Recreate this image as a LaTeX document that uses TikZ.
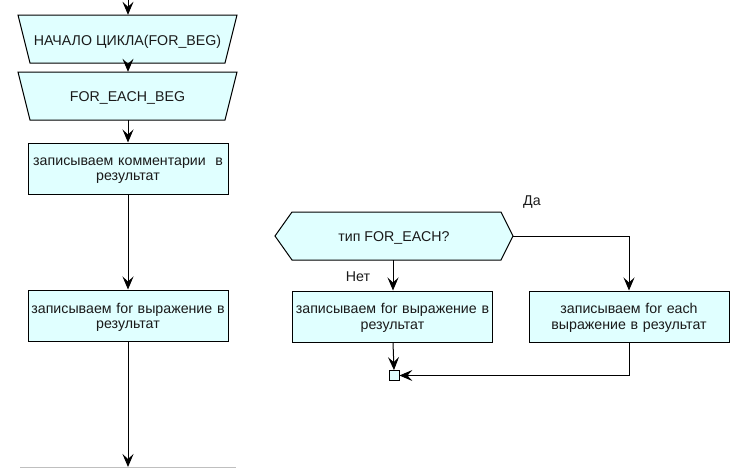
\documentclass[tikz,border=0pt]{standalone}
\usepackage{fontspec}
\setmainfont{Liberation Sans}
\usetikzlibrary{arrows.meta}
\definecolor{boxfill}{HTML}{E0FFFF}
\definecolor{txt}{HTML}{1A1A1A}
\tikzset{
  shapeline/.style={draw=black, line width=1pt, fill=boxfill},
  procbox/.style={shapeline, rectangle, minimum width=200pt, minimum height=51pt, inner sep=0pt},
  proctext/.style={inner sep=0pt, text width=198pt, align=center, font=\fontsize{14.2}{15.5}\selectfont, text=txt},
  lbl/.style={inner sep=0pt, font=\fontsize{14.2}{15.5}\selectfont, text=txt},
  conn/.style={draw=black, line width=1pt, -{Stealth[length=13pt,width=11pt,inset=5pt]}},
  plain/.style={draw=black, line width=1pt}
}
\begin{document}
\begin{tikzpicture}[x=1pt,y=-1pt]
\useasboundingbox[fill=white] (0,0) rectangle (750,469);
% trapezoid 1
\fill[boxfill] (18,15) -- (237,15) -- (225,63) -- (30,63) -- cycle;
\draw[line width=1pt] (18,15) -- (237,15) -- (225,63) -- (30,63) -- cycle;
\node[lbl, minimum width=195pt, minimum height=48pt] (beg) at (127.5,39) {};
\node[lbl] (begt) at (127.5,41.5) {НАЧАЛО ЦИКЛА(FOR\_BEG)};
% trapezoid 2
\fill[boxfill] (18,72) -- (237,72) -- (225,120) -- (30,120) -- cycle;
\draw[line width=1pt] (18,72) -- (237,72) -- (225,120) -- (30,120) -- cycle;
\node[lbl, minimum width=195pt, minimum height=48pt] (febeg) at (127.5,96) {};
\node[lbl] (febegt) at (127.5,97.5) {FOR\_EACH\_BEG};
% boxes left column
\node[procbox] (comm) at (128,168.5) {};
\node[proctext] (commt) at ([yshift=-2pt]comm.center) {записываем комментарии \ в\\результат};
\node[procbox] (forl) at (128,315.5) {};
\node[proctext] (forlt) at ([yshift=-2pt]forl.center) {записываем for выражение в\\результат};
% hexagon
\fill[boxfill] (275,236) -- (292,212) -- (501,212) -- (513,236) -- (501,260) -- (292,260) -- cycle;
\draw[line width=1pt] (275,236) -- (292,212) -- (501,212) -- (513,236) -- (501,260) -- (292,260) -- cycle;
\node[lbl, minimum width=209pt, minimum height=48pt] (dec) at (394,236) {};
\node[lbl] (dect) at (394,237.5) {тип FOR\_EACH?};
\coordinate (decR) at (513,236);
\coordinate (decB) at (393,260);
% right boxes
\node[procbox] (forn) at (392.5,316.5) {};
\node[proctext] (fornt) at ([yshift=-1.5pt]forn.center) {записываем for выражение в\\результат};
\node[procbox] (fore) at (629,316.5) {};
\node[proctext] (foret) at ([yshift=-1.5pt]fore.center) {записываем for each\\выражение в результат};
% junction square
\node[shapeline, rectangle, minimum width=10pt, minimum height=10pt, inner sep=0pt, line width=0.8pt] (junc) at (394,375.5) {};
% labels
\node[lbl] (da) at (532,202) {Да};
\node[lbl] (net) at (358,277) {Нет};
% top incoming
\coordinate (topin) at (128,0);
\coordinate (botout) at (128,467);
% connectors
\draw[conn] (topin) -- (beg.north -| topin);
\draw[conn] (beg.south -| topin) -- (febeg.north -| topin);
\draw[conn] (febeg.south -| topin) -- (comm.north);
\draw[conn] (comm.south) -- (forl.north);
\draw[conn] (forl.south) -- (botout);
\draw[conn] (decB) -- (decB |- forn.north);
\draw[conn] (decR) -| (fore.north);
\draw[conn] (decB |- forn.south) -- (junc.north);
\draw[conn] (fore.south) |- (junc.east);
% cut-off shape at bottom
\draw[draw=black!25, line width=1pt] (20,467.5) -- (236,467.5);
\end{tikzpicture}
\end{document}
